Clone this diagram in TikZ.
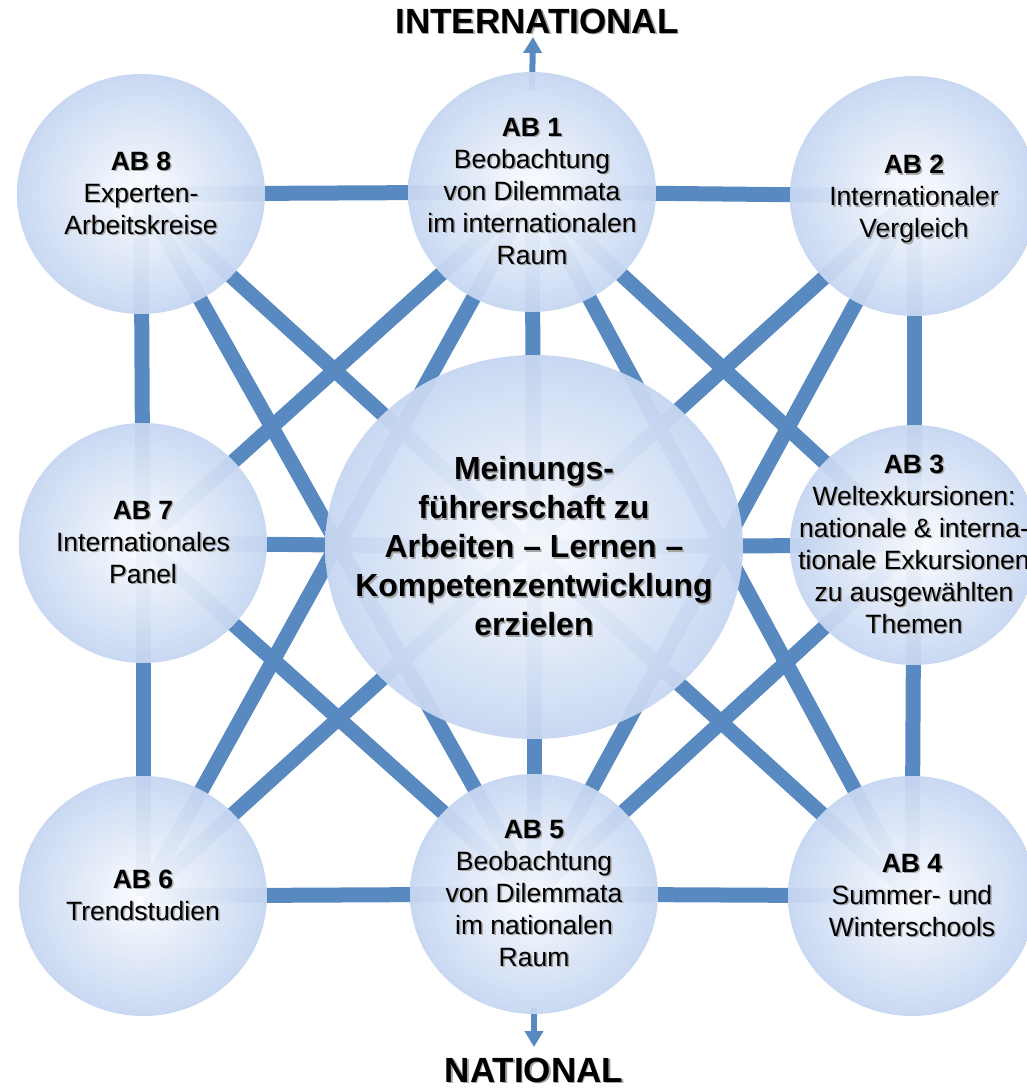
\documentclass[tikz,border=0pt]{standalone}
\usepackage{fontspec}
\setmainfont{Liberation Sans}
\usetikzlibrary{shapes.geometric,arrows.meta,backgrounds}
\definecolor{linkblue}{RGB}{88,137,192}
\definecolor{circedge}{RGB}{198,214,241}
\definecolor{circmid}{RGB}{252,253,255}
\definecolor{shadowgray}{RGB}{165,165,165}
\newcommand{\shd}[1]{\leavevmode\rlap{\hspace{1.5pt}\raisebox{-1.5pt}{\textcolor{shadowgray}{#1}}}#1}
\begin{document}
\begin{tikzpicture}[x=1pt,y=-1pt,
  bubble/.style={ellipse, minimum width=248pt, minimum height=240pt, inner sep=0pt,
    inner color=circmid, outer color=circedge, fill opacity=0.95, draw=none},
  bigbubble/.style={bubble, minimum width=418pt, minimum height=384pt},
  link/.style={draw=linkblue, line width=15pt},
  bubbletext/.style={align=center, font=\fontsize{26.5}{32}\selectfont, text=black, inner sep=0pt},
  bigtext/.style={align=center, font=\fontsize{32}{39}\selectfont\bfseries, text=black, inner sep=0pt},
  headline/.style={font=\fontsize{35}{40}\selectfont\bfseries, text=black, inner sep=0pt},
  dirarrow/.style={draw=linkblue, line width=6pt, -{Triangle[length=16pt,width=18pt]}}
]
\useasboundingbox (0,0) rectangle (1027,1088);

% circles
\node[bubble] (ab8) at (141,194) {};
\node[bubble] (ab1) at (532,192) {};
\node[bubble] (ab2) at (914,196) {};
\node[bubble] (ab7) at (143,543) {};
\node[bigbubble] (cc) at (534,547) {};
\node[bubble] (ab3) at (914,545) {};
\node[bubble] (ab6) at (143,896) {};
\node[bubble] (ab5) at (534,894) {};
\node[bubble] (ab4) at (912,896) {};

\coordinate (intltip) at (533,37);
\coordinate (nattip) at (534,1047);

\begin{pgfonlayer}{background}
  % ring
  \draw[link] (ab8.center) -- (ab1.center);
  \draw[link] (ab1.center) -- (ab2.center);
  \draw[link] (ab2.center) -- (ab3.center);
  \draw[link] (ab3.center) -- (ab4.center);
  \draw[link] (ab4.center) -- (ab5.center);
  \draw[link] (ab5.center) -- (ab6.center);
  \draw[link] (ab6.center) -- (ab7.center);
  \draw[link] (ab7.center) -- (ab8.center);
  % spokes
  \draw[link] (cc.center) -- (ab1.center);
  \draw[link] (cc.center) -- (ab3.center);
  \draw[link] (cc.center) -- (ab5.center);
  \draw[link] (cc.center) -- (ab7.center);
  % diamond
  \draw[link] (ab1.center) -- (ab7.center);
  \draw[link] (ab1.center) -- (ab3.center);
  \draw[link] (ab5.center) -- (ab7.center);
  \draw[link] (ab5.center) -- (ab3.center);
  % corner diagonals
  \draw[link] (ab8.center) -- (ab4.center);
  \draw[link] (ab2.center) -- (ab6.center);
  % long steep links
  \draw[link] (ab8.center) -- (ab5.center);
  \draw[link] (ab2.center) -- (ab5.center);
  \draw[link] (ab1.center) -- (ab6.center);
  \draw[link] (ab1.center) -- (ab4.center);
  % direction arrows
  \draw[dirarrow] ([yshift=-18pt]ab1.north) -- (intltip);
  \draw[dirarrow] ([yshift=6pt]ab5.south) -- (nattip);
\end{pgfonlayer}

% texts
\node[headline] (intl) at (537,22) {\shd{INTERNATIONAL}};
\node[headline] (natl) at (534,1071) {\shd{NATIONAL}};

\node[bubbletext] (t8) at (ab8.center) {\shd{\textbf{AB 8}}\\\shd{Experten-}\\\shd{Arbeitskreise}};
\node[bubbletext] (t1) at (ab1.center) {\shd{\textbf{AB 1}}\\\shd{Beobachtung}\\\shd{von Dilemmata}\\\shd{im internationalen}\\\shd{Raum}};
\node[bubbletext] (t2) at ([yshift=-4pt]ab2.center) {\shd{\textbf{AB 2}}\\\shd{Internationaler}\\\shd{Vergleich}};
\node[bubbletext] (t7) at (ab7.center) {\shd{\textbf{AB 7}}\\\shd{Internationales}\\\shd{Panel}};
\node[bubbletext] (t3) at (ab3.center) {\shd{\textbf{AB 3}}\\\shd{Weltexkursionen:}\\\shd{nationale \& interna-}\\\shd{tionale Exkursionen}\\\shd{zu ausgewählten}\\\shd{Themen}};
\node[bubbletext] (t6) at (ab6.center) {\shd{\textbf{AB 6}}\\\shd{Trendstudien}};
\node[bubbletext] (t5) at (ab5.center) {\shd{\textbf{AB 5}}\\\shd{Beobachtung}\\\shd{von Dilemmata}\\\shd{im nationalen}\\\shd{Raum}};
\node[bubbletext] (t4) at (ab4.center) {\shd{\textbf{AB 4}}\\\shd{Summer- und}\\\shd{Winterschools}};
\node[bigtext] (tc) at (cc.center) {\shd{Meinungs-}\\\shd{führerschaft zu}\\\shd{Arbeiten – Lernen –}\\\shd{Kompetenzentwicklung}\\\shd{erzielen}};
\end{tikzpicture}
\end{document}
